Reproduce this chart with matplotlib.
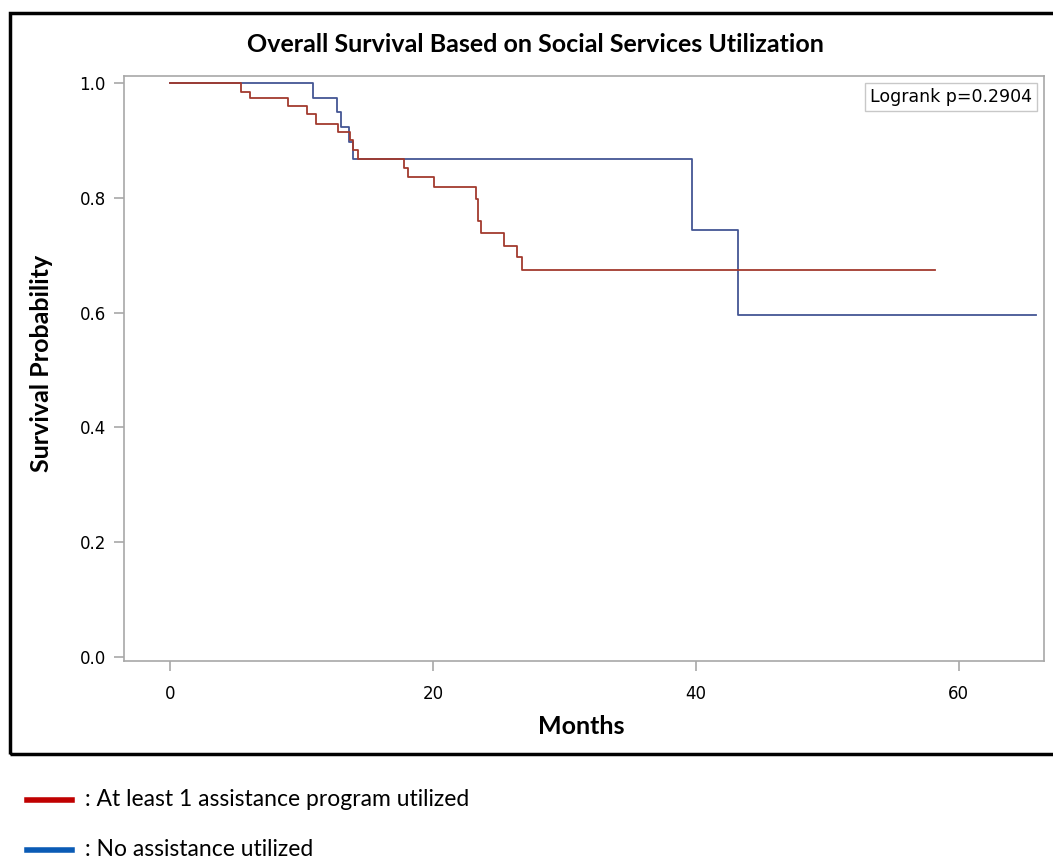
import matplotlib
matplotlib.use('Agg')
import matplotlib.pyplot as plt
from matplotlib.patches import Rectangle
from matplotlib.lines import Line2D

# Kaplan-Meier step data (months, survival probability)
red_t = [0, 5.4, 6.1, 9.0, 10.4, 11.1, 12.8, 13.7, 13.9, 14.3, 17.8, 18.1,
         20.05, 23.3, 23.4, 23.65, 25.4, 26.4, 26.8, 58.2]
red_s = [1.0, 0.985, 0.974, 0.960, 0.946, 0.929, 0.914, 0.900, 0.883, 0.868,
         0.851, 0.836, 0.819, 0.798, 0.759, 0.739, 0.716, 0.696, 0.674, 0.674]

blue_t = [0, 10.9, 12.7, 13.0, 13.65, 13.9, 39.7, 43.2, 65.9]
blue_s = [1.0, 0.974, 0.949, 0.923, 0.897, 0.868, 0.744, 0.596, 0.596]

x_ticks = [0, 20, 40, 60]
y_ticks = [0.0, 0.2, 0.4, 0.6, 0.8, 1.0]

legend_labels = [': At least 1 assistance program utilized', ': No assistance utilized']

title_font = ['Lato', 'DejaVu Sans']


def main():
    fig = plt.figure(figsize=(10.53, 8.58), dpi=100)
    W, H = 1053, 858

    ax = fig.add_axes([124 / W, 1 - 661 / H, (1044 - 124) / W, (661 - 76) / H])

    ax.step(blue_t, blue_s, where='post', color='#445694', lw=1.3)
    ax.step(red_t, red_s, where='post', color='#A23A2E', lw=1.3)

    ax.set_xlim(-3.5, 66.5)
    ax.set_ylim(-0.007, 1.012)
    ax.set_xticks(x_ticks)
    ax.set_yticks(y_ticks)
    ax.set_yticklabels(['%.1f' % v for v in y_ticks])

    for sp in ax.spines.values():
        sp.set_color('#A8A8A8')
        sp.set_linewidth(1.2)
    ax.tick_params(axis='both', colors='#A8A8A8', labelcolor='black',
                   length=7, width=1.2, labelsize=12)
    ax.tick_params(axis='x', pad=10)
    ax.tick_params(axis='y', pad=6)

    # titles placed in figure pixels to match the source layout
    fig.text(535 / W, 1 - 44 / H,
             'Overall Survival Based on Social Services Utilization',
             fontsize=18, fontweight='bold', family=title_font,
             ha='center', va='center')
    fig.text(581 / W, 1 - 727 / H, 'Months', fontsize=18, fontweight='bold',
             family=title_font, ha='center', va='center')
    fig.text(42 / W, 1 - 363 / H, 'Survival Probability', fontsize=18,
             fontweight='bold', family=title_font, rotation=90,
             ha='center', va='center')

    ax.text(1 - 12 / 920, 1 - 12 / 585, 'Logrank p=0.2904', transform=ax.transAxes,
            ha='right', va='top', fontsize=12.5,
            bbox=dict(boxstyle='square,pad=0.3', fc='white', ec='#C8C8C8', lw=1))

    # outer black frame (right edge runs off the image)
    fig.patches.append(Rectangle((10 / W, 1 - 754 / H), 1.0, (754 - 13) / H,
                                 transform=fig.transFigure, fill=False,
                                 ec='black', lw=2.5))

    # manual legend under the frame
    colors = ['#C00000', '#0A5BB5']
    ys = [800, 850]
    for lab, c, y in zip(legend_labels, colors, ys):
        fig.add_artist(Line2D([27 / W, 72 / W], [1 - y / H, 1 - y / H],
                              color=c, lw=4, transform=fig.transFigure))
        fig.text(85 / W, 1 - y / H, lab, fontsize=16.5, family=title_font,
                 ha='left', va='center')

    fig.savefig('out.png', dpi=100)


if __name__ == "__main__":
    main()
